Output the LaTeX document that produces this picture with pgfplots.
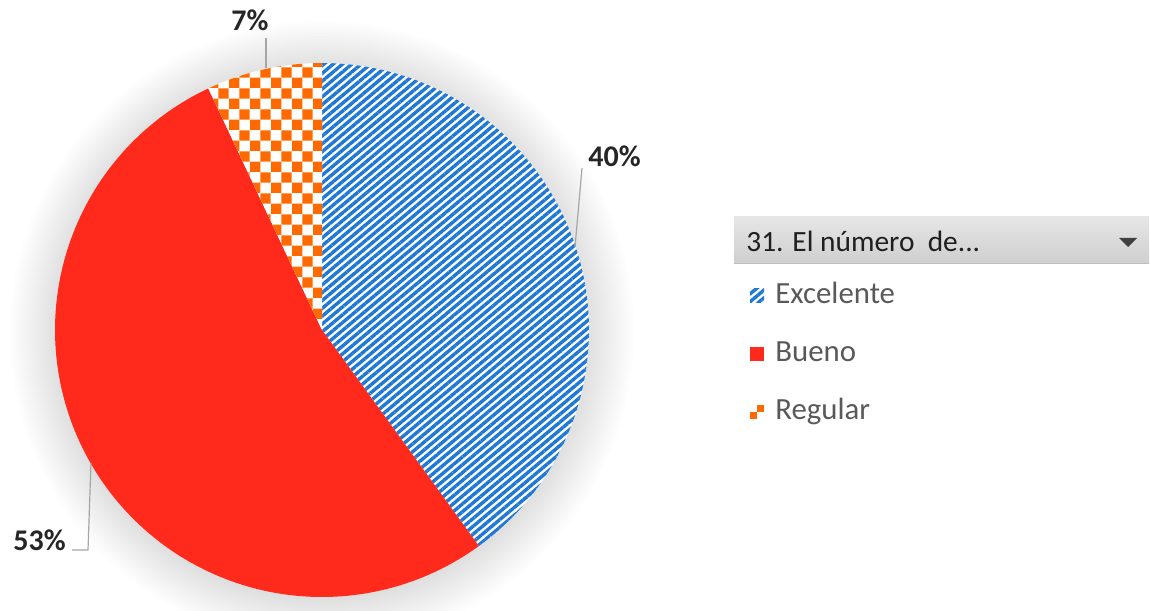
\documentclass[border=0pt]{standalone}
\usepackage{fontspec}
\setmainfont{Carlito}
\usepackage{pgfplots}
\pgfplotsset{compat=1.18}
\usepackage{pgfplotstable}
\usetikzlibrary{patterns.meta}

\definecolor{exblue}{RGB}{30,120,212}
\definecolor{bured}{RGB}{255,42,27}
\definecolor{reorange}{RGB}{255,106,0}
\definecolor{legtext}{RGB}{89,89,89}
\definecolor{leader}{RGB}{166,166,166}

\tikzdeclarepattern{
  name=checker, type=uncolored,
  bottom left={(0pt,0pt)}, top right={(10.4pt,10.4pt)},
  tile size={(10.4pt,10.4pt)},
  code={\fill (0pt,0pt) rectangle (5.2pt,5.2pt);
        \fill (5.2pt,5.2pt) rectangle (10.4pt,10.4pt);}
}

\pgfplotstableread{
label value
Excelente 40
Bueno 53
Regular 7
}\piedata

\pgfplotstablegetelem{0}{value}\of\piedata \pgfmathtruncatemacro\vA{\pgfplotsretval}
\pgfplotstablegetelem{1}{value}\of\piedata \pgfmathtruncatemacro\vB{\pgfplotsretval}
\pgfplotstablegetelem{2}{value}\of\piedata \pgfmathtruncatemacro\vC{\pgfplotsretval}
% slices run clockwise from 12 o'clock
\pgfmathsetmacro\aA{90-3.6*\vA}
\pgfmathsetmacro\aB{\aA-3.6*\vB}
\pgfmathsetmacro\aC{\aB-3.6*\vC}

\newcommand\hdfont{\fontsize{14.7}{17}\selectfont}
\newcommand\legfont{\fontsize{15.4}{18}\selectfont}
\newcommand\labfont{\fontsize{15}{18}\selectfont\bfseries}

\begin{document}
\begin{tikzpicture}
\begin{axis}[
  width=575pt, height=305pt, scale only axis,
  xmin=0, xmax=1150, ymin=0, ymax=610,
  hide axis, clip=false,
]
\path (0,0) rectangle (1150,610);
% soft shadow behind the pie: stacked faint discs
\pgfplotsinvokeforeach{0,3,...,45}{
  \fill[overlay, black, opacity=0.009] (322,277) circle[radius={(267+#1)*0.5pt}];
}

\addplot[draw=none, preaction={fill=white},
  pattern={Lines[angle=40,distance=3pt,line width=1.7pt]}, pattern color=exblue,
  domain=\aA:90, samples=120]
  ({322+267*cos(x)},{280+267*sin(x)}) -- (322,280) -- cycle;
\addplot[draw=none, fill=bured, domain=\aB:\aA, samples=150]
  ({322+267*cos(x)},{280+267*sin(x)}) -- (322,280) -- cycle;
\addplot[draw=none, preaction={fill=white},
  pattern=checker, pattern color=reorange, domain=\aC:\aB, samples=40]
  ({322+267*cos(x)},{280+267*sin(x)}) -- (322,280) -- cycle;

% data labels and leader lines
\draw[leader, line width=0.6pt] (582,442) -- (575,363);
\draw[leader, line width=0.6pt] (266,572) -- (266,542);
\draw[leader, line width=0.6pt] (72,60) -- (88,60) -- (91,147);
\node[anchor=base west, inner sep=0pt, text=black!85] at (588,443) {\labfont\vA\%};
\node[anchor=base west, inner sep=0pt, text=black!85] at (231,579) {\labfont\vC\%};
\node[anchor=base west, inner sep=0pt, text=black!85] at (13,60) {\labfont\vB\%};

% legend header
\shade[top color=black!10, bottom color=black!19] (734,393) rectangle (1149,346);
\draw[black!25, line width=0.5pt] (734,346) -- (1149,346);
\node[anchor=base west, inner sep=0pt, text=black!88] at (746,358) {\hdfont 31. El número \ de...};
\fill[black!75] (1119,372) -- (1137,372) -- (1128,363) -- cycle;

% legend entries
\fill[white] (750,321) rectangle (764,307);
\fill[pattern={Lines[angle=40,distance=3pt,line width=1.7pt]}, pattern color=exblue]
  (750,321) rectangle (764,307);
\node[anchor=base west, inner sep=0pt, text=legtext] at (775,306) {\legfont Excelente};
\fill[bured] (750,263) rectangle (764,249);
\node[anchor=base west, inner sep=0pt, text=legtext] at (775,248) {\legfont Bueno};
\fill[reorange] (750,191) rectangle (757,198);
\fill[reorange] (757,198) rectangle (764,205);
\node[anchor=base west, inner sep=0pt, text=legtext] at (775,190) {\legfont Regular};
\end{axis}
\end{tikzpicture}
\end{document}
